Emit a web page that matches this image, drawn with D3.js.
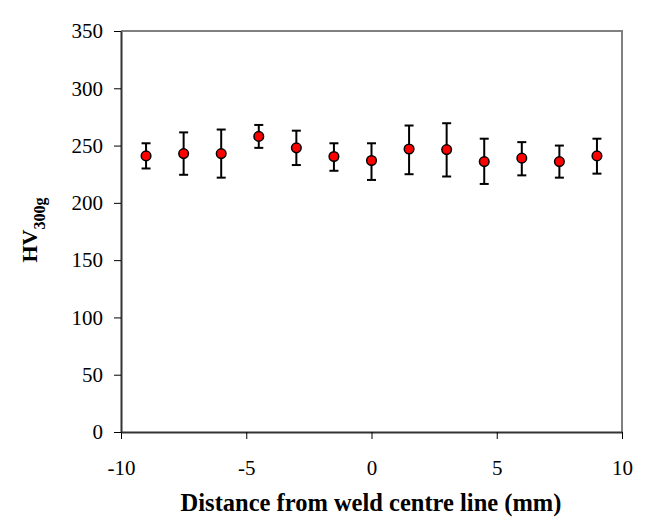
<!DOCTYPE html>
<html>
<head>
<meta charset="utf-8">
<script src="https://cdn.jsdelivr.net/npm/d3@7"></script>
<style>
  body { margin: 0; background: #fff; }
  svg text { font-family: "Liberation Serif", "Times New Roman", serif; }
</style>
</head>
<body>
<div id="chart"></div>
<script>
// distance from weld centre line (mm)
const distance = [-9, -7.5, -6, -4.5, -3, -1.5, 0, 1.5, 3, 4.5, 6, 7.5, 9];
// mean hardness HV300g
const hardness = [241, 243, 243, 258, 248, 240.5, 237, 247, 246.5, 236, 239, 236, 241];
// error bar ends
const errHigh = [252, 261.5, 264, 268, 263, 252, 252, 267.5, 269.5, 256, 253, 250, 256];
const errLow = [230, 224.5, 222, 248, 233, 228, 220, 225, 223, 216.5, 224, 222, 225.5];

const xTicks = [-10, -5, 0, 5, 10];
const yTicks = [0, 50, 100, 150, 200, 250, 300, 350];

const width = 645, height = 528;
const margin = { left: 121, right: 23, top: 31, bottom: 96 };
const serif = '"Liberation Serif", "Times New Roman", serif';

const svg = d3.select("#chart").append("svg")
  .attr("width", width)
  .attr("height", height);

const x = d3.scaleLinear().domain([-10, 10]).range([margin.left, width - margin.right]);
const y = d3.scaleLinear().domain([0, 350]).range([height - margin.bottom, margin.top]);

// frame top and right
svg.append("path")
  .attr("d", `M${x(-10)},${y(350)}H${x(10)}V${y(0)}`)
  .attr("fill", "none")
  .attr("stroke", "#808080")
  .attr("stroke-width", 2);

const fmt = d => String(d); // plain hyphen minus like the original

const xAxis = svg.append("g")
  .attr("transform", `translate(0,${y(0)})`)
  .call(d3.axisBottom(x).tickValues(xTicks).tickFormat(fmt).tickSize(7).tickSizeOuter(0).tickPadding(21));

const yAxis = svg.append("g")
  .attr("transform", `translate(${x(-10)},0)`)
  .call(d3.axisLeft(y).tickValues(yTicks).tickFormat(fmt).tickSize(7).tickSizeOuter(0).tickPadding(11));

[xAxis, yAxis].forEach(g => {
  g.attr("font-family", serif).attr("font-size", 21);
  g.select(".domain").attr("stroke", "#333").attr("stroke-width", 2);
  g.selectAll(".tick line").attr("stroke", "#000").attr("stroke-width", 1);
  g.selectAll(".tick text").attr("fill", "#000");
});

const pts = distance.map((d, i) => ({ x: d, v: hardness[i], hi: errHigh[i], lo: errLow[i] }));

// error bars
const eb = svg.append("g").attr("stroke", "#000").attr("stroke-width", 2);
eb.selectAll(".stem").data(pts).enter().append("line")
  .attr("x1", d => x(d.x)).attr("x2", d => x(d.x))
  .attr("y1", d => y(d.hi)).attr("y2", d => y(d.lo));
eb.selectAll(".capHi").data(pts).enter().append("line")
  .attr("x1", d => x(d.x) - 4.5).attr("x2", d => x(d.x) + 4.5)
  .attr("y1", d => y(d.hi)).attr("y2", d => y(d.hi));
eb.selectAll(".capLo").data(pts).enter().append("line")
  .attr("x1", d => x(d.x) - 4.5).attr("x2", d => x(d.x) + 4.5)
  .attr("y1", d => y(d.lo)).attr("y2", d => y(d.lo));

// markers
svg.append("g").selectAll("circle").data(pts).enter().append("circle")
  .attr("cx", d => x(d.x))
  .attr("cy", d => y(d.v))
  .attr("r", 4.8)
  .attr("fill", "#ff0000")
  .attr("stroke", "#000")
  .attr("stroke-width", 1.5);

// x label
svg.append("text")
  .attr("x", 371)
  .attr("y", 511)
  .attr("text-anchor", "middle")
  .style("font-size", "24.5px")
  .style("font-weight", "bold")
  .text("Distance from weld centre line (mm)");

// y label
const yl = svg.append("text")
  .attr("transform", "translate(37,230) rotate(-90)")
  .attr("text-anchor", "middle")
  .style("font-size", "22px")
  .style("font-weight", "bold");
yl.append("tspan").text("HV");
yl.append("tspan").attr("dy", 8).style("font-size", "16px").text("300g");
</script>
</body>
</html>
